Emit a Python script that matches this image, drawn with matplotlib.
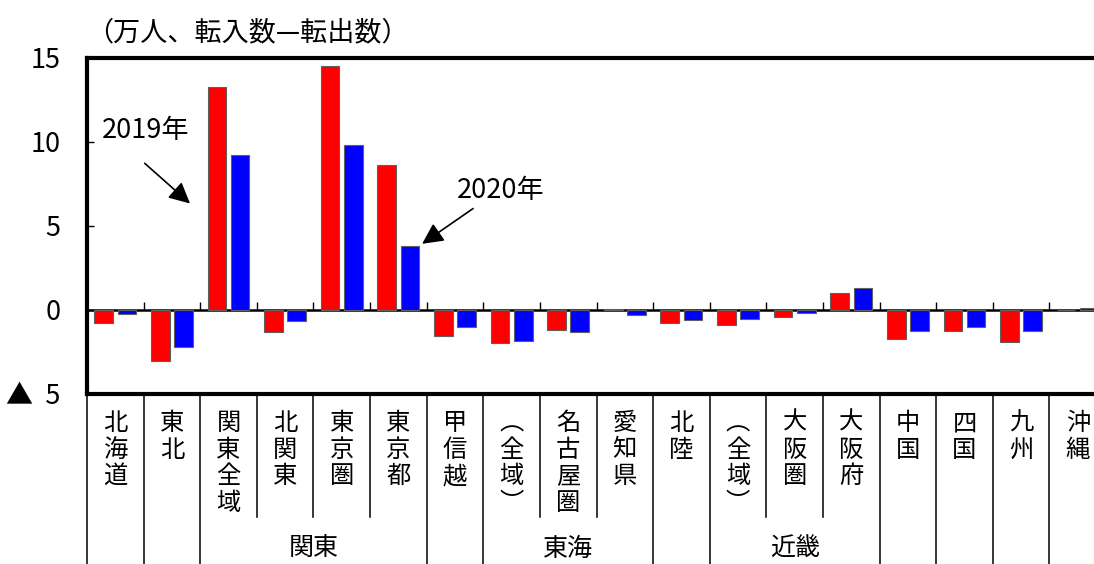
import matplotlib
matplotlib.use("Agg")
import matplotlib.pyplot as plt
import matplotlib.transforms as mtransforms
import numpy as np

plt.rcParams['font.family'] = ['Noto Sans CJK JP', 'DejaVu Sans']

# Regions (net migration, 10k persons)
regions = ['北海道', '東北', '関東全域', '北関東', '東京圏', '東京都', '甲信越',
           '（全域）', '名古屋圏', '愛知県', '北陸', '（全域）', '大阪圏', '大阪府',
           '中国', '四国', '九州', '沖縄']
net_2019 = [-0.8, -3.05, 13.3, -1.3, 14.55, 8.65, -1.55, -1.95, -1.2, 0.05,
            -0.8, -0.88, -0.44, 1.0, -1.7, -1.24, -1.93, 0.0]
net_2020 = [-0.25, -2.2, 9.2, -0.65, 9.8, 3.83, -1.0, -1.85, -1.3, -0.28,
            -0.62, -0.54, -0.15, 1.3, -1.27, -1.0, -1.24, 0.1]

# Regional groupings shown under the category labels: (name, first, last+1)
groups = [('関東', 2, 6), ('東海', 7, 10), ('近畿', 11, 14)]

yticks = [-5, 0, 5, 10, 15]
yticklabels = ['▲  5', '0', '5', '10', '15']

W, H = 1094, 564
fig = plt.figure(figsize=(W / 100, H / 100), dpi=100)
ax_left, ax_right, ax_top, ax_bottom = 87, 1106, 58, 394
ax = fig.add_axes([ax_left / W, 1 - ax_bottom / H,
                   (ax_right - ax_left) / W, (ax_bottom - ax_top) / H])

n = len(regions)
x = np.arange(n) + 0.5
bw = 0.33
ax.bar(x - 0.205, net_2019, bw, color='#FF0000', edgecolor='#606060', linewidth=0.8, zorder=2)
ax.bar(x + 0.205, net_2020, bw, color='#0000FF', edgecolor='#606060', linewidth=0.8, zorder=2)

ax.set_xlim(0, n)
ax.set_ylim(-5, 15)

for side in ['left', 'top', 'bottom', 'right']:
    ax.spines[side].set_linewidth(3)
    ax.spines[side].set_color('black')

ax.set_xticks([])
ax.set_yticks(yticks)
ax.set_yticklabels(yticklabels, fontsize=19.5)
ax.tick_params(axis='y', direction='in', length=5, width=1, pad=19)

# Zero line with category separator ticks
zero_pos = (0 - (-5)) / 20
sec = ax.secondary_xaxis(zero_pos)
sec.spines['bottom'].set_linewidth(1.8)
sec.set_xticks(np.arange(1, n))
sec.tick_params(direction='in', length=6, width=1, labelbottom=False)

# Category table below the plot
trans = mtransforms.blended_transform_factory(ax.transData, ax.transAxes)
ax_h = ax_bottom - ax_top
full_y = -(H - ax_bottom + 5) / ax_h
short_y = -(517 - ax_bottom) / ax_h
inner = set()
for name, a, b in groups:
    inner.update(range(a + 1, b))
for k in range(n + 1):
    y_end = short_y if k in inner else full_y
    ax.plot([k, k], [0, y_end], color='black', lw=1.1, transform=trans, clip_on=False)

vert_map = {'（': '︵', '）': '︶'}
label_top = -(410 - ax_bottom) / ax_h
for i, name in enumerate(regions):
    s = '\n'.join(vert_map.get(c, c) for c in name)
    ax.text(x[i], label_top, s, transform=trans, ha='center', va='top',
            fontsize=17.5, linespacing=1.03)

group_y = -(549 - ax_bottom) / ax_h
for name, a, b in groups:
    ax.text((a + b) / 2, group_y, name, transform=trans, ha='center', va='center',
            fontsize=18)

# Title / unit
fig.text(86 / W, 1 - 33 / H, '（万人、転入数—転出数）', ha='left', va='center', fontsize=19.5)

# Year annotations
arrow = dict(arrowstyle='-|>', mutation_scale=32, lw=1.2, color='black', shrinkA=0, shrinkB=0)
ax.text(1.04, 10.7, '2019年', ha='center', va='center', fontsize=19.5)
ax.annotate('', xy=(1.82, 6.34), xytext=(1.02, 8.73), arrowprops=arrow)
ax.text(7.30, 7.11, '2020年', ha='center', va='center', fontsize=19.5)
ax.annotate('', xy=(5.92, 3.94), xytext=(6.82, 6.04), arrowprops=arrow)

fig.savefig('out.png', dpi=100)
